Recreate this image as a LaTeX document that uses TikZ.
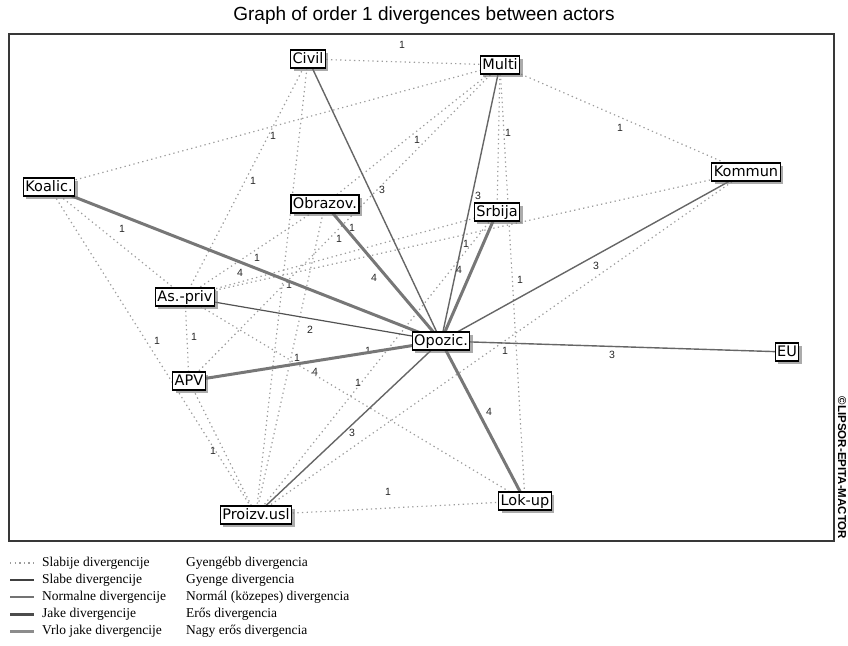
\documentclass[tikz,border=0pt]{standalone}
\usepackage{fontspec}
\setmainfont{Liberation Serif}
\newfontfamily\nodefont{DejaVu Sans}
\newfontfamily\sansfont{Liberation Sans}
\usetikzlibrary{shadows}
\pgfdeclarelayer{bg}
\pgfsetlayers{bg,main}
\definecolor{dotc}{HTML}{9C9C9C}
\definecolor{thinc}{HTML}{666666}
\definecolor{thickc}{HTML}{777777}
\begin{document}
\begin{tikzpicture}[x=1pt,y=-1pt,
  actor/.style={draw=black, line width=1.1pt, fill=white, inner xsep=2pt, inner ysep=2pt,
    font=\nodefont\fontsize{14.5}{16}\selectfont, text height=11pt, text depth=3pt,
    drop shadow={shadow xshift=3pt, shadow yshift=-3pt, fill=black!55, opacity=0.6}},
  weak/.style={draw=dotc, line width=1.2pt, dash pattern=on 1.3pt off 3.3pt},
  slabe/.style={draw=black!68, line width=1.2pt},
  norm/.style={draw=thinc, line width=1.4pt},
  jake/.style={draw=thickc, line width=3pt},
  lab/.style={font=\sansfont\fontsize{10.5}{12}\selectfont, inner sep=0pt, text=black!85},
  legtxt/.style={font=\fontsize{13.5}{16}\selectfont, anchor=west, inner sep=0pt}
]
\useasboundingbox (0,0) rectangle (848,645);
\node[font=\sansfont\fontsize{19}{22}\selectfont] (title) at (424,16) {Graph of order 1 divergences between actors};
\draw[line width=2pt, black!78] (9,34) rectangle (834,541);
\node[rotate=-90, font=\sansfont\bfseries\fontsize{11.5}{13}\selectfont, inner sep=0pt] (copy) at (842,468) {©LIPSOR-EPITA-MACTOR};

% actors
\node[actor] (C)  at (308,59)  {Civil};
\node[actor] (M)  at (500,65)  {Multi};
\node[actor] (K)  at (746,172) {Kommun};
\node[actor] (Ko) at (49,187)  {Koalic.};
\node[actor] (O)  at (325,204) {Obrazov.};
\node[actor] (S)  at (497,212) {Srbija};
\node[actor] (A)  at (185,297) {As.-priv};
\node[actor] (Op) at (441,341) {Opozic.};
\node[actor] (E)  at (787,352) {EU};
\node[actor] (P)  at (189,381) {APV};
\node[actor] (Pr) at (256,515) {Proizv.usl};
\node[actor] (L)  at (525,501) {Lok-up};

\begin{pgfonlayer}{bg}
% weaker divergences (dotted)
\draw[weak] (C.center)  -- node[lab, shift={(-2,-17)}] (w1) {1} (M.center);
\draw[weak] (Ko.center) -- node[lab, shift={(-1.5,10)}] (w2) {1} (M.center);
\draw[weak] (M.center)  -- node[lab, shift={(4.5,5.5)}] (w3) {1} (O.center);
\draw[weak] (M.center)  -- node[lab, shift={(9.5,-5.5)}] (w4) {1} (S.center);
\draw[weak] (M.center)  -- node[lab, shift={(-3,9.5)}] (w5) {1} (K.center);
\draw[weak] (C.center)  -- node[lab, shift={(6.5,3)}] (w6) {1} (A.center);
\draw[weak] (Ko.center) -- node[lab, shift={(5,-13)}] (w7) {1} (A.center);
\draw[weak] (M.center)  -- node[lab, shift={(7.5,5)}] (w8) {1} (P.center);
\draw[weak] (A.center)  -- node[lab, shift={(-2,-15.5)}] (w9) {1} (S.center);
\draw[weak] (A.center)  -- node[lab, shift={(2,7.5)}] (w10) {1} (O.center);
\draw[weak] (C.center)  -- node[lab, shift={(7,-2)}] (w11) {1} (Pr.center);
\draw[weak] (K.center)  -- node[lab, shift={(0.5,9.5)}] (w12) {1} (A.center);
\draw[weak] (M.center)  -- node[lab, shift={(7.5,-3)}] (w13) {1} (L.center);
\draw[weak] (Pr.center) -- node[lab, shift={(4,7.5)}] (w14) {1} (K.center);
\draw[weak] (Ko.center) -- node[lab, shift={(4.5,-10)}] (w15) {1} (Pr.center);
\draw[weak] (A.center)  -- node[lab, shift={(7,-2)}] (w16) {1} (P.center);
\draw[weak] (Pr.center) -- node[lab, shift={(-8.5,-12.5)}] (w17) {1} (S.center);
\draw[weak] (O.center)  -- node[lab, shift={(6.5,-1.5)}] (w18) {1} (Pr.center);
\draw[weak] (A.center)  -- node[lab, shift={(3,-16)}] (w19) {1} (L.center);
\draw[weak] (P.center)  -- node[lab, shift={(-9.5,3)}] (w20) {1} (Pr.center);
\draw[weak] (Pr.center) -- node[lab, shift={(-2.5,-16)}] (w21) {1} (L.center);
% solid divergences
\draw[norm] (C.center)  -- node[lab, shift={(7.5,-10)}] (s1) {3} (Op.center);
\draw[norm] (M.center)  -- node[lab, shift={(7.5,-7.5)}] (s2) {3} (Op.center);
\draw[norm] (K.center)  -- node[lab, shift={(2.5,9.5)}] (s3) {3} (Op.center);
\draw[norm] (E.center)  -- node[lab, shift={(-2,8.5)}] (s4) {3} (Op.center);
\draw[norm] (Pr.center) -- node[lab, shift={(3.5,5)}] (s5) {3} (Op.center);
\draw[slabe] (A.center) -- node[lab, shift={(-3,11)}] (s6) {2} (Op.center);
\draw[jake] (Ko.center) -- node[lab, shift={(-5,9)}] (s7) {4} (Op.center);
\draw[jake] (O.center)  -- node[lab, shift={(-9,5.5)}] (s8) {4} (Op.center);
\draw[jake] (S.center)  -- node[lab, shift={(-10,-6.5)}] (s9) {4} (Op.center);
\draw[jake] (P.center)  -- node[lab, shift={(0,11)}] (s10) {4} (Op.center);
\draw[jake] (L.center)  -- node[lab, shift={(6,-9)}] (s11) {4} (Op.center);
\end{pgfonlayer}

% legend
\draw[weak] (10,563) -- (34,563);
\draw[draw=black!75, line width=1.2pt] (10,580) -- (34,580);
\draw[draw=black!55, line width=1.2pt] (10,597) -- (34,597);
\draw[draw=black!70, line width=3pt] (10,614) -- (34,614);
\draw[draw=black!45, line width=3pt] (10,631) -- (34,631);
\node[legtxt] (g1) at (42,563) {Slabije divergencije};
\node[legtxt] (g2) at (42,580) {Slabe divergencije};
\node[legtxt] (g3) at (42,597) {Normalne divergencije};
\node[legtxt] (g4) at (42,614) {Jake divergencije};
\node[legtxt] (g5) at (42,631) {Vrlo jake divergencije};
\node[legtxt] (h1) at (186,563) {Gyengébb divergencia};
\node[legtxt] (h2) at (186,580) {Gyenge divergencia};
\node[legtxt] (h3) at (186,597) {Normál (közepes) divergencia};
\node[legtxt] (h4) at (186,614) {Erős divergencia};
\node[legtxt] (h5) at (186,631) {Nagy erős divergencia};
\end{tikzpicture}
\end{document}
